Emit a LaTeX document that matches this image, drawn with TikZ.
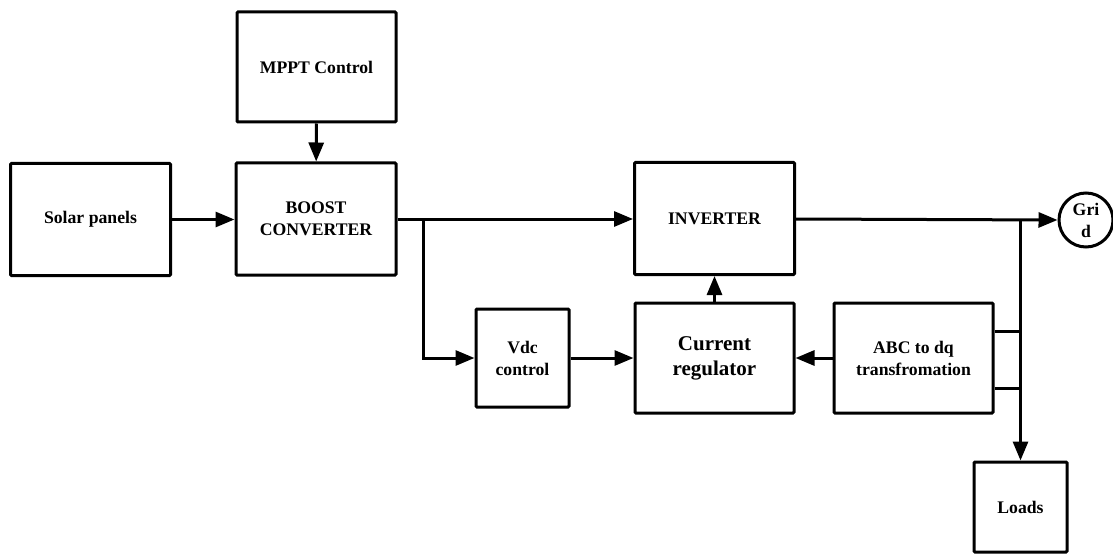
\documentclass[tikz,border=0pt]{standalone}
\usepackage{fontspec}
\setmainfont{Liberation Serif}
\usetikzlibrary{arrows.meta,positioning}

\tikzset{
  blk/.style={draw, line width=3pt, rounded corners=1pt, align=center,
    font=\bfseries\fontsize{17.7}{22}\selectfont, inner sep=2pt},
  bigblk/.style={blk, minimum width=160pt, minimum height=112pt},
  wire/.style={line width=3pt},
  arr/.style={wire, -{Triangle[length=19pt,width=15pt]}},
}

\begin{document}
\begin{tikzpicture}[x=1pt,y=-1pt]
  \useasboundingbox (0,0) rectangle (1113,556);

  % blocks
  \node[bigblk] (solar) at (90.5,219.5) {Solar panels};
  \node[bigblk] (boost) at (316,219) {BOOST\\CONVERTER};
  \node[blk, minimum width=159pt, minimum height=110pt] (mppt) at (316.5,67) {MPPT Control};
  \node[bigblk] (inv) at (714.5,218.5) {INVERTER};
  \node[blk, minimum width=93pt, minimum height=98pt] (vdc) at (522.5,358) {Vdc\\control};
  \node[blk, minimum width=159pt, minimum height=110pt,
        font=\bfseries\fontsize{21}{25}\selectfont] (creg) at (714.5,358) {Current\\regulator};
  \node[blk, minimum width=159pt, minimum height=110pt] (abc) at (913.5,358) {ABC to dq\\transfromation};
  \node[blk, minimum width=93pt, minimum height=90pt] (loads) at (1020.5,507) {Loads};
  \node[blk, circle, minimum size=54pt, inner sep=0pt,
        font=\bfseries\fontsize{17.7}{22}\selectfont] (grid) at (1086,220) {Gri\\d};

  % junctions on the dc and ac buses
  \coordinate (jdc) at (423,219);
  \coordinate (jac) at (1020.5,219);
  \coordinate (s1) at ([yshift=27pt]abc.east);
  \coordinate (s2) at ([yshift=-30pt]abc.east);

  % connections
  \draw[arr] (mppt) -- (boost);
  \draw[arr] (solar.east) -- (boost.west |- solar.east);
  \draw[arr] (boost.east) -- (inv.west |- boost.east);
  \draw[arr] (jdc) |- (vdc.west);
  \draw[arr] (vdc.east) -- (creg.west);
  \draw[arr] (abc.west) -- (creg.east);
  \draw[arr] (creg) -- (inv);
  \draw[arr] (inv.east |- jac) -- (grid.west);
  \draw[arr] (jac) -- (loads.north);
  \draw[wire] (s1) -- (s1 -| jac);
  \draw[wire] (s2) -- (s2 -| jac);
\end{tikzpicture}
\end{document}
